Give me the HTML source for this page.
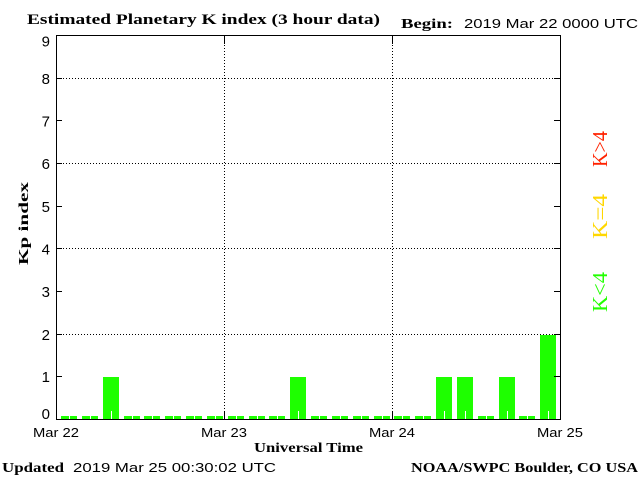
<!DOCTYPE html>
<html>
<head>
<meta charset="utf-8">
<style>
html,body{margin:0;padding:0;background:#fff;}
svg{display:block;}
.s{font-family:"Liberation Sans",sans-serif;fill:#000;}
.b{font-family:"Liberation Serif",serif;font-weight:bold;fill:#000;}
.r{font-family:"Liberation Serif",serif;}
</style>
</head>
<body>
<svg width="640" height="480" viewBox="0 0 640 480" xmlns="http://www.w3.org/2000/svg">
<rect width="640" height="480" fill="#fff"/>

<!-- title -->
<text class="b" x="27" y="24" font-size="15" textLength="353" lengthAdjust="spacingAndGlyphs">Estimated Planetary K index (3 hour data)</text>
<text class="b" x="401" y="28" font-size="14" textLength="52" lengthAdjust="spacingAndGlyphs">Begin:</text>
<text class="s" x="464" y="28" font-size="12.5" textLength="174" lengthAdjust="spacingAndGlyphs">2019 Mar 22 0000 UTC</text>

<!-- bars -->
<g fill="#1eff00" shape-rendering="crispEdges">
<rect x="61" y="416" width="16" height="3"/>
<rect x="82" y="416" width="16" height="3"/>
<rect x="103" y="377" width="16" height="42"/>
<rect x="124" y="416" width="16" height="3"/>
<rect x="144" y="416" width="16" height="3"/>
<rect x="165" y="416" width="16" height="3"/>
<rect x="186" y="416" width="16" height="3"/>
<rect x="207" y="416" width="16" height="3"/>
<rect x="228" y="416" width="16" height="3"/>
<rect x="249" y="416" width="16" height="3"/>
<rect x="269" y="416" width="16" height="3"/>
<rect x="290" y="377" width="16" height="42"/>
<rect x="311" y="416" width="16" height="3"/>
<rect x="332" y="416" width="16" height="3"/>
<rect x="353" y="416" width="16" height="3"/>
<rect x="374" y="416" width="16" height="3"/>
<rect x="394" y="416" width="16" height="3"/>
<rect x="415" y="416" width="16" height="3"/>
<rect x="436" y="377" width="16" height="42"/>
<rect x="457" y="377" width="16" height="42"/>
<rect x="478" y="416" width="16" height="3"/>
<rect x="499" y="377" width="16" height="42"/>
<rect x="519" y="416" width="16" height="3"/>
<rect x="540" y="335" width="16" height="84"/>
</g>
<g fill="#fff" shape-rendering="crispEdges">
<rect x="69" y="411" width="1" height="8"/>
<rect x="90" y="411" width="1" height="8"/>
<rect x="111" y="411" width="1" height="8"/>
<rect x="132" y="411" width="1" height="8"/>
<rect x="152" y="411" width="1" height="8"/>
<rect x="173" y="411" width="1" height="8"/>
<rect x="194" y="411" width="1" height="8"/>
<rect x="215" y="411" width="1" height="8"/>
<rect x="236" y="411" width="1" height="8"/>
<rect x="257" y="411" width="1" height="8"/>
<rect x="277" y="411" width="1" height="8"/>
<rect x="298" y="411" width="1" height="8"/>
<rect x="319" y="411" width="1" height="8"/>
<rect x="340" y="411" width="1" height="8"/>
<rect x="361" y="411" width="1" height="8"/>
<rect x="382" y="411" width="1" height="8"/>
<rect x="402" y="411" width="1" height="8"/>
<rect x="423" y="411" width="1" height="8"/>
<rect x="444" y="411" width="1" height="8"/>
<rect x="465" y="411" width="1" height="8"/>
<rect x="486" y="411" width="1" height="8"/>
<rect x="507" y="411" width="1" height="8"/>
<rect x="527" y="411" width="1" height="8"/>
<rect x="548" y="411" width="1" height="8"/>
</g>

<!-- grid dotted -->
<g stroke="#000" stroke-width="1" stroke-dasharray="1,2" shape-rendering="crispEdges">
<line x1="57" y1="78.5" x2="560" y2="78.5"/>
<line x1="57" y1="163.5" x2="560" y2="163.5"/>
<line x1="57" y1="248.5" x2="560" y2="248.5"/>
<line x1="57" y1="334.5" x2="560" y2="334.5"/>
<line x1="224.5" y1="36" x2="224.5" y2="419"/>
<line x1="392.5" y1="36" x2="392.5" y2="419"/>
</g>

<!-- frame and ticks -->
<g stroke="#000" stroke-width="1" fill="none" shape-rendering="crispEdges">
<rect x="56.5" y="35.5" width="504" height="384"/>
<path d="M56 78.5h6M56 120.5h6M56 163.5h6M56 206.5h6M56 248.5h6M56 291.5h6M56 334.5h6M56 376.5h6"/>
<path d="M560 78.5h-6M560 120.5h-6M560 163.5h-6M560 206.5h-6M560 248.5h-6M560 291.5h-6M560 334.5h-6M560 376.5h-6"/>
<path d="M224.5 36v8M392.5 36v8M224.5 419v-8M392.5 419v-8"/>
</g>

<!-- y labels -->
<g class="s" font-size="15" text-anchor="end">
<text x="50" y="46.5">9</text>
<text x="50" y="84">8</text>
<text x="50" y="126.5">7</text>
<text x="50" y="169">6</text>
<text x="50" y="212">5</text>
<text x="50" y="254.5">4</text>
<text x="50" y="297">3</text>
<text x="50" y="340">2</text>
<text x="50" y="382">1</text>
<text x="50" y="419">0</text>
</g>

<!-- x labels -->
<g class="s" font-size="12.5" text-anchor="middle">
<text x="56" y="437" textLength="46" lengthAdjust="spacingAndGlyphs">Mar 22</text>
<text x="224" y="437" textLength="46" lengthAdjust="spacingAndGlyphs">Mar 23</text>
<text x="392" y="437" textLength="46" lengthAdjust="spacingAndGlyphs">Mar 24</text>
<text x="560" y="437" textLength="46" lengthAdjust="spacingAndGlyphs">Mar 25</text>
</g>

<text class="b" x="254" y="452" font-size="14" textLength="109" lengthAdjust="spacingAndGlyphs">Universal Time</text>
<text class="b" transform="translate(28,265) rotate(-90)" font-size="14" textLength="83" lengthAdjust="spacingAndGlyphs">Kp index</text>

<!-- right legend -->
<text class="r" fill="#ff2200" transform="translate(607,167) rotate(-90)" font-size="21" textLength="36" lengthAdjust="spacingAndGlyphs">K&gt;4</text>
<text class="r" fill="#ffd700" transform="translate(607,239) rotate(-90)" font-size="21" textLength="45" lengthAdjust="spacingAndGlyphs">K=4</text>
<text class="r" fill="#22ff00" transform="translate(607,312) rotate(-90)" font-size="21" textLength="40" lengthAdjust="spacingAndGlyphs">K&lt;4</text>

<!-- footer -->
<text class="b" x="2" y="472" font-size="14" textLength="62" lengthAdjust="spacingAndGlyphs">Updated</text>
<text class="s" x="73" y="472" font-size="12.5" textLength="203" lengthAdjust="spacingAndGlyphs">2019 Mar 25 00:30:02 UTC</text>
<text class="b" x="411" y="472" font-size="14" textLength="227" lengthAdjust="spacingAndGlyphs">NOAA/SWPC Boulder, CO USA</text>
</svg>
</body>
</html>
